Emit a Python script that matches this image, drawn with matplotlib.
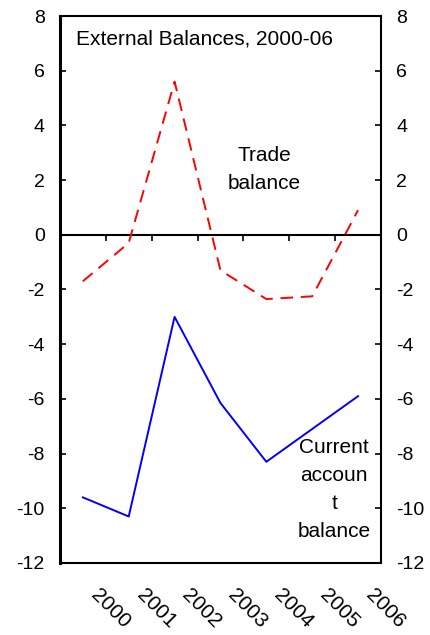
import numpy as np
import matplotlib
matplotlib.use('Agg')
import matplotlib.pyplot as plt
from matplotlib.transforms import ScaledTranslation

plt.rcParams['font.family'] = ['Liberation Sans', 'DejaVu Sans']
plt.rcParams['axes.unicode_minus'] = False

years = ['2000', '2001', '2002', '2003', '2004', '2005', '2006']
trade_balance = [-1.7, -0.3, 5.6, -1.3, -2.35, -2.25, 0.9]
current_account = [-9.6, -10.3, -3.0, -6.15, -8.3, -7.1, -5.9]
yticks = [8, 6, 4, 2, 0, -2, -4, -6, -8, -10, -12]

TICKSIZE = 14
TEXTSIZE = 15
fig = plt.figure(figsize=(4.31, 6.35), dpi=100)
ax = fig.add_axes([0.139, 0.1134, 0.745, 0.8614])

x = np.arange(len(years))
ax.plot(x, trade_balance, color='#FF0000', lw=1.4, dashes=(6.5, 4))
ax.plot(x, current_account, color='#0000FF', lw=1.4)

ax.set_xlim(-0.5, len(years) - 0.5)
ax.set_ylim(-12, 8)
ax.set_yticks(yticks)
ax.tick_params(axis='y', direction='in', length=4, width=1.2,
               left=True, right=True, labelleft=True, labelright=True,
               labelsize=TICKSIZE, pad=11)

for side in ['top', 'right', 'bottom']:
    ax.spines[side].set_linewidth(1.5)
ax.spines['left'].set_linewidth(2.2)

# category labels hang below the frame, rotated
ax.set_xticks(x)
ax.set_xticklabels(years, rotation=-45, ha='left', va='top',
                   rotation_mode='anchor', fontsize=TEXTSIZE)
ax.tick_params(axis='x', length=0, pad=16)
offset = ScaledTranslation(12.6 / 72, 0, fig.dpi_scale_trans)
for lab in ax.get_xticklabels():
    lab.set_transform(lab.get_transform() + offset)

# zero line with category separators
ax.axhline(0, color='black', lw=1.5, zorder=1)
sec = ax.secondary_xaxis(12 / 20)
sec.set_xticks(x[:-1] + 0.5)
sec.set_xticklabels([])
sec.tick_params(direction='in', length=4, width=1.2)
sec.spines['bottom'].set_visible(False)
sec.spines['top'].set_visible(False)

ax.text(0.05, 0.9488, 'External Balances, 2000-06', transform=ax.transAxes,
        fontsize=TEXTSIZE, ha='left', va='baseline')
ax.text(0.636, 0.72, 'Trade\nbalance', transform=ax.transAxes,
        fontsize=TEXTSIZE, ha='center', va='center', linespacing=1.6)
ax.text(0.854, 0.135, 'Current\naccoun\nt\nbalance', transform=ax.transAxes,
        fontsize=TEXTSIZE, ha='center', va='center', linespacing=1.6)

fig.savefig('out.png', dpi=100)
